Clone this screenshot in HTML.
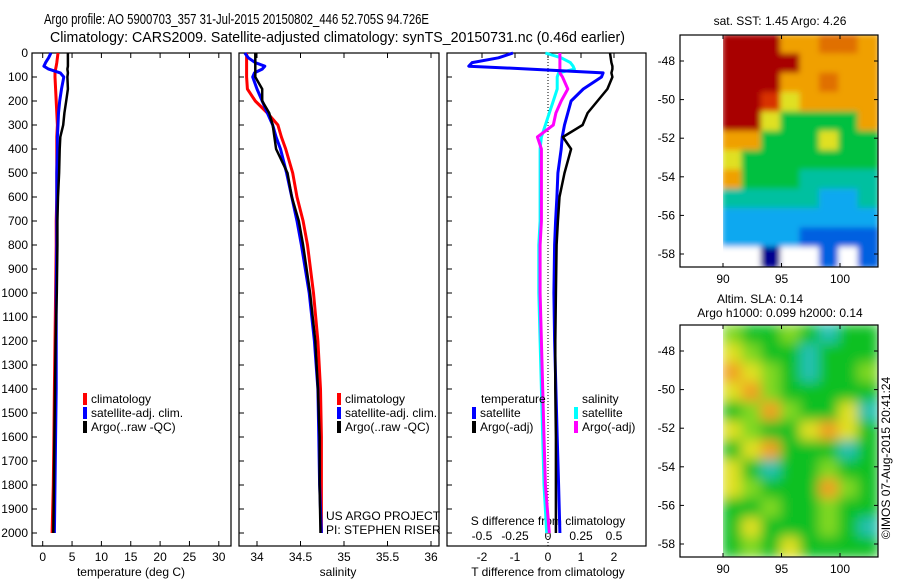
<!DOCTYPE html>
<html><head><meta charset="utf-8">
<style>
body{margin:0;background:#fff;}
svg text{font-family:"Liberation Sans",sans-serif;fill:#000;}
</style></head>
<body>
<svg id="chart" width="900" height="580" viewBox="0 0 900 580" xmlns="http://www.w3.org/2000/svg">
<text x="44" y="24" font-size="15" textLength="385" lengthAdjust="spacingAndGlyphs">Argo profile: AO 5900703_357 31-Jul-2015 20150802_446 52.705S 94.726E</text>
<text x="50" y="42" font-size="15" textLength="575" lengthAdjust="spacingAndGlyphs">Climatology: CARS2009. Satellite-adjusted climatology: synTS_20150731.nc (0.46d earlier)</text>
<g id="g"></g>
</svg>
<script>
// ---- data ----
const depthTicks=[0,100,200,300,400,500,600,700,800,900,1000,1100,1200,1300,1400,1500,1600,1700,1800,1900,2000];
const tTicks=[0,5,10,15,20,25,30];
const sTicks=[34,34.5,35,35.5,36];
const sTickLabels=["34","34.5","35","35.5","36"];
const dTTicks=[-2,-1,0,1,2];
const dSTicks=[-0.5,-0.25,0,0.25,0.5];
const dSTickLabels=["-0.5","-0.25","0","0.25","0.5"];

const depthA=[0,20,40,55,67,83,100,150,200,250,300,350,400,500,600,700,800,1000,1200,1400,1600,1800,2000];
const tempClim=[2.6,2.5,2.4,2.3,2.2,2.1,2.1,2.2,2.3,2.4,2.5,2.4,2.4,2.4,2.4,2.3,2.3,2.2,2.1,2.0,1.9,1.8,1.6];
const tempSat =[1.4,1.0,0.5,0.2,1.0,3.0,3.6,3.2,2.9,2.7,2.6,2.5,2.5,2.4,2.4,2.4,2.4,2.3,2.3,2.3,2.2,2.1,2.0];
const tempArgo=[4.3,4.3,4.3,4.3,4.2,4.3,4.2,4.3,4.0,3.7,3.5,3.0,2.9,2.8,2.6,2.5,2.5,2.4,2.2,2.1,2.0,1.9,1.8];
const salClim=[33.88,33.88,33.88,33.88,33.88,33.88,33.88,33.89,33.98,34.12,34.24,34.28,34.33,34.41,34.46,34.53,34.58,34.65,34.70,34.73,34.74,34.74,34.74];
const salSat =[33.86,33.90,33.98,34.09,34.06,33.97,33.95,34.00,34.06,34.12,34.18,34.22,34.27,34.34,34.40,34.46,34.51,34.60,34.66,34.70,34.71,34.72,34.74];
const salArgo=[33.98,33.98,33.98,33.98,33.98,33.98,33.98,34.06,34.06,34.14,34.18,34.20,34.22,34.35,34.40,34.48,34.53,34.61,34.67,34.70,34.72,34.72,34.73];
const dTSat =[-1.06,-1.5,-2.3,-2.4,-0.55,1.67,1.62,1.07,0.70,0.60,0.50,0.43,0.40,0.30,0.27,0.23,0.20,0.18,0.20,0.24,0.28,0.32,0.36];
const dTArgo=[1.88,1.90,1.92,1.95,1.95,1.92,1.95,1.80,1.50,1.20,1.05,0.45,0.70,0.50,0.35,0.30,0.26,0.24,0.22,0.22,0.24,0.24,0.24];
const dSSat =[-0.02,0.10,0.17,0.19,0.20,0.08,0.07,0.07,0.04,0.01,-0.02,-0.05,-0.06,-0.06,-0.06,-0.06,-0.07,-0.07,-0.06,-0.05,-0.04,-0.03,-0.01];
const dSArgo=[0.09,0.09,0.09,0.09,0.09,0.09,0.11,0.15,0.10,0.06,0.04,-0.08,-0.05,-0.05,-0.05,-0.05,-0.06,-0.06,-0.05,-0.04,-0.03,-0.02,0.01];

const sstRows=["RRRooOOo","RRRRoooo","RRRooOoo","RRryoooo","RRyggggo","oogggygg","yggggggg","ogggtttt","tttttcct","cccccccc","ccccbbbb","wwdwwbwb"];
const slaRows=["lgglgcgg","ylggcggg","oylgcggl","yolggggg","glolggyc","ylggyoyg","gyogggcg","ygcgglgg","ylgggolg","gglgglgg","gyggglgc","glgyggg"+"g"];
const sstColors={R:"#a80000",r:"#d83000",o:"#f0a000",O:"#e07000",y:"#e0e020",g:"#00c040",t:"#00c0a0",c:"#10a8f0",b:"#0060e0",d:"#000090",w:"#ffffff"};
const slaColors={g:"#10c020",l:"#80d820",y:"#e0e020",o:"#f0a020",c:"#20c0b0"};

// ---- helpers ----
const NS="http://www.w3.org/2000/svg";
const G=document.getElementById('g');
function el(tag,attrs,parent){const e=document.createElementNS(NS,tag);for(const k in attrs)e.setAttribute(k,attrs[k]);(parent||G).appendChild(e);return e;}
function txt(s,x,y,size,anchor){const e=el('text',{x:x,y:y,'font-size':size,'text-anchor':anchor||'start'});e.textContent=s;return e;}
const yD=d=>53+0.24*d;
const xT=t=>42.7+5.87*t;
const xS=s=>257+87*(s-34);
const xDT=v=>548+33*v;
const xDS=v=>548+132*v;
const TOP=53,BOT=546;

function frame(x0,x1,name){
  const r=el('rect',{x:x0,y:TOP,width:x1-x0,height:BOT-TOP,fill:'none',stroke:'#000','stroke-width':1.2});
  
  
  depthTicks.forEach(d=>{el('line',{x1:x0,x2:x0+5,y1:yD(d),y2:yD(d),stroke:'#000'});});
}
function line(xs,xf,color,name,w){
  const pts=depthA.map((d,i)=>xf(xs[i]).toFixed(1)+','+yD(d).toFixed(1)).join(' ');
  const p=el('polyline',{points:pts,fill:'none',stroke:color,'stroke-width':w||3,'stroke-linejoin':'round'});
  
  
}
function xticks(ticks,labels,xf,x0,x1,ly,name){
  ticks.forEach((t,i)=>{const x=xf(t);el('line',{x1:x,x2:x,y1:BOT,y2:BOT-5,stroke:'#000'});el('line',{x1:x,x2:x,y1:TOP,y2:TOP+5,stroke:'#000'});
    const e=txt(labels[i],x,ly,12,'middle');
    
    });
}
function legend(x,y,color,label,name){
  el('rect',{x:x,y:y-10,width:4,height:12,fill:color});
  const e=txt(label,x+8,y,12);
  
  
}

depthTicks.forEach(d=>{const e=txt(String(d),28,yD(d)+4,12,'end');
  
  });

frame(32,231,'temperature-panel');
xticks(tTicks,tTicks.map(String),xT,32,231,561,'temperature');
let t1=txt('temperature (deg C)',131,576,12,'middle');


line(tempClim,xT,'#ff0000','temp-climatology-line');
line(tempSat,xT,'#0000ff','temp-satellite-line');
line(tempArgo,xT,'#000000','temp-argo-line',2.5);
legend(83,403,'#ff0000','climatology','legend-climatology');
legend(83,417,'#0000ff','satellite-adj. clim.','legend-satellite');
legend(83,431,'#000000','Argo(..raw -QC)','legend-argo');

frame(239,439,'salinity-panel');
xticks(sTicks,sTickLabels,xS,239,439,561,'salinity');
let t2=txt('salinity',338,576,12,'middle');


line(salClim,xS,'#ff0000','sal-climatology-line');
line(salSat,xS,'#0000ff','sal-satellite-line');
line(salArgo,xS,'#000000','sal-argo-line',2.5);
legend(337,403,'#ff0000','climatology','legend-sal-climatology');
legend(337,417,'#0000ff','satellite-adj. clim.','legend-sal-satellite');
legend(337,431,'#000000','Argo(..raw -QC)','legend-sal-argo');
let p1=txt('US ARGO PROJECT',326,520,12);
let p2=txt('PI: STEPHEN RISER',326,534,12);

frame(447,646,'difference-panel');
el('line',{x1:548,x2:548,y1:TOP,y2:BOT,stroke:'#000','stroke-dasharray':'1,2'});
dTTicks.forEach(t=>{const e=txt(String(t),xDT(t),561,12,'middle');el('line',{x1:xDT(t),x2:xDT(t),y1:TOP,y2:TOP+5,stroke:'#000'});});
dSTicks.forEach((t,i)=>{const e=txt(dSTickLabels[i],xDS(t),540,12,'middle');});
let t3=txt('T difference from climatology',548,576,12,'middle');
let t4=txt('S difference from climatology',548,525,12,'middle');
line(dSSat,xDS,'#00ffff','ds-satellite-line');
line(dSArgo,xDS,'#ff00ff','ds-argo-line');
line(dTSat,xDT,'#0000ff','dt-satellite-line');
line(dTArgo,xDT,'#000000','dt-argo-line',2.5);
let lt=txt('temperature',481,403,12);
legend(472,417,'#0000ff','satellite','legend-dt-satellite');
legend(472,431,'#000000','Argo(-adj)','legend-dt-argo');
let ls=txt('salinity',582,403,12);
legend(574,417,'#00ffff','satellite','legend-ds-satellite');
legend(574,431,'#ff00ff','Argo(-adj)','legend-ds-argo');

const mx=lon=>723+11.7*(lon-90);
function map(y0,y1,latY,rows,colors,name,blur){
  const defs=el('defs',{});
  const f=el('filter',{id:'bl'+name,filterUnits:'userSpaceOnUse',x:700,y:y0-30,width:200,height:y1-y0+60},defs);
  el('feGaussianBlur',{stdDeviation:blur},f);
  const cp=el('clipPath',{id:'cp'+name},defs);
  el('rect',{x:723,y:y0,width:878-723,height:y1-y0},cp);
  const grp=el('g',{'clip-path':'url(#cp'+name+')'});
  const grp2=el('g',{filter:'url(#bl'+name+')'},grp);
  const nr=rows.length,nc=rows[0].length,cw=(878-723)/nc,ch=(y1-y0)/nr;
  rows.forEach((r,i)=>{[...r].forEach((c,j)=>{
    const cell=el('rect',{x:723+j*cw-1,y:y0+i*ch-1,width:cw+2,height:ch+2,fill:colors[c]},grp2);
    
    
  });});
  const fr=el('rect',{x:680,y:y0,width:198,height:y1-y0,fill:'none',stroke:'#000','stroke-width':1.2});
  
  
  [-48,-50,-52,-54,-56,-58].forEach(l=>{const y=latY(l);
    el('line',{x1:680,x2:684,y1:y,y2:y,stroke:'#000'});el('line',{x1:874,x2:878,y1:y,y2:y,stroke:'#000'});
    const e=txt(String(l),675,y+4,12,'end');});
  [90,95,100].forEach(l=>{const x=mx(l);
    el('line',{x1:x,x2:x,y1:y1,y2:y1-4,stroke:'#000'});el('line',{x1:x,x2:x,y1:y0,y2:y0+4,stroke:'#000'});
    const e=txt(String(l),x,y1+16,12,'middle');});
}
map(35,267,l=>61+(-48-l)*19.3,sstRows,sstColors,'sst-map',3);
let m1=txt('sat. SST: 1.45 Argo: 4.26',780,25,12,'middle');
map(325,557,l=>351+(-48-l)*19.3,slaRows,slaColors,'sla-map',6);
let m2=txt('Altim. SLA: 0.14',760,303,12,'middle');
let m3=txt('Argo h1000: 0.099 h2000: 0.14',780,317,12,'middle');
let im=txt('©IMOS 07-Aug-2015 20:41:24',0,0,12,'middle');
im.setAttribute('transform','translate(890,458) rotate(-90)');


</script>
</body></html>
